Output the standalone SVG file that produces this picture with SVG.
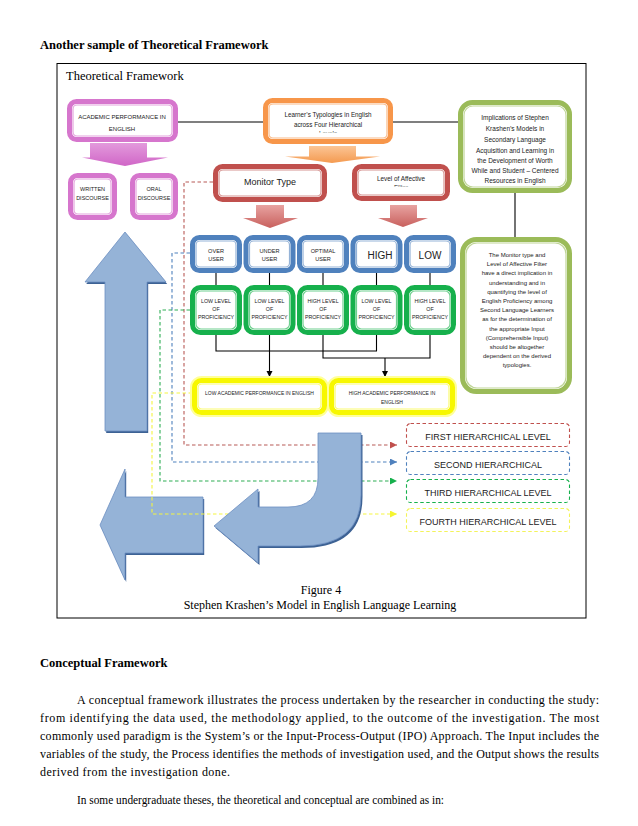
<svg xmlns="http://www.w3.org/2000/svg" width="638" height="826" viewBox="0 0 638 826">
<style>
.serif{font-family:"Liberation Serif","Times New Roman",serif;fill:#000}
.b{font-weight:bold}
.s{font-family:"Liberation Sans",Arial,sans-serif;fill:#222;text-anchor:middle}
.ln{stroke:#000;stroke-width:1.1;fill:none}
.pk-o{fill:#fff;stroke:#d676cd;stroke-width:5}
.pk-i{fill:none;stroke:#e3a3dd;stroke-width:1.2}
.or-o{fill:#fff;stroke:#f7964a;stroke-width:5}
.or-i{fill:none;stroke:#f9b987;stroke-width:1.2}
.rd-o{fill:#fff;stroke:#c0504d;stroke-width:5}
.rd-i{fill:none;stroke:#d69492;stroke-width:1.2}
.ol-o{fill:#fff;stroke:#9bbb59;stroke-width:5}
.ol-i{fill:none;stroke:#bfd597;stroke-width:1.2}
.bl-o{fill:#fff;stroke:#4f81bd;stroke-width:5}
.bl-i{fill:none;stroke:#95b3d7;stroke-width:1.2}
.gr-o{fill:#fff;stroke:#16b04c;stroke-width:5}
.gr-i{fill:none;stroke:#6fd08f;stroke-width:1.2}
.yl-g{fill:none;stroke:#ffff9a;stroke-width:9}
.yl-o{fill:#fff;stroke:#f7f700;stroke-width:5}
.yl-i{fill:none;stroke:#fbfb70;stroke-width:1.2}
.dash{fill:none;stroke-width:1.1;stroke-dasharray:3.5 2.5}
.big{fill:#95b3d7;stroke:#6d8fc2;stroke-width:0.8}
.shadow{fill:#3d6294}
</style>
<defs>
<marker id="ab" markerWidth="8" markerHeight="8" refX="6" refY="3" orient="auto" markerUnits="userSpaceOnUse"><path d="M0,0 L6,3 L0,6 Z" fill="#000"/></marker>
<marker id="ar" markerWidth="8" markerHeight="8" refX="7" refY="3.5" orient="auto" markerUnits="userSpaceOnUse"><path d="M0,0 L7,3.5 L0,7 Z" fill="#c0504d"/></marker>
<marker id="abl" markerWidth="8" markerHeight="8" refX="7" refY="3.5" orient="auto" markerUnits="userSpaceOnUse"><path d="M0,0 L7,3.5 L0,7 Z" fill="#4f81bd"/></marker>
<marker id="agr" markerWidth="8" markerHeight="8" refX="7" refY="3.5" orient="auto" markerUnits="userSpaceOnUse"><path d="M0,0 L7,3.5 L0,7 Z" fill="#16b04c"/></marker>
<marker id="ayl" markerWidth="8" markerHeight="8" refX="7" refY="3.5" orient="auto" markerUnits="userSpaceOnUse"><path d="M0,0 L7,3.5 L0,7 Z" fill="#f5f530"/></marker>
<linearGradient id="gpk" x1="0" y1="0" x2="0" y2="1"><stop offset="0" stop-color="#e39adc"/><stop offset="1" stop-color="#d066c7"/></linearGradient>
<linearGradient id="gor" x1="0" y1="0" x2="0" y2="1"><stop offset="0" stop-color="#fbc595"/><stop offset="1" stop-color="#f49a50"/></linearGradient>
<linearGradient id="grd" x1="0" y1="0" x2="0" y2="1"><stop offset="0" stop-color="#e8a3a1"/><stop offset="1" stop-color="#c8605d"/></linearGradient>
<clipPath id="c1"><rect x="263" y="98" width="130" height="34.5"/></clipPath>
<clipPath id="c2"><rect x="352" y="164" width="98" height="22.5"/></clipPath>
</defs>
<rect width="638" height="826" fill="#fff"/>
<text class="serif b" x="40" y="49" font-size="12.5">Another sample of Theoretical Framework</text>
<rect x="57" y="63.5" width="529" height="554.5" fill="none" stroke="#000" stroke-width="1"/>
<text class="serif" x="66" y="80" font-size="12.5">Theoretical Framework</text>

<!-- big blue arrows (background) -->
<g id="arrow-up">
<path class="shadow" transform="translate(1.2,2)" d="M125,232 L166,282 L147,282 L147,431 L105,431 L105,282 L85,282 Z"/>
<path class="big" d="M125,232 L166,282 L147,282 L147,431 L105,431 L105,282 L85,282 Z"/>
</g>
<g id="arrow-left">
<path class="shadow" transform="translate(1.2,2)" d="M100,525 L125,469 L125,497 L203,497 L203,553 L125,553 L125,580 Z"/>
<path class="big" d="M100,525 L125,469 L125,497 L203,497 L203,553 L125,553 L125,580 Z"/>
</g>

<!-- connectors -->
<g id="connectors">
<line class="ln" x1="178" y1="122" x2="263" y2="122"/>
<line class="ln" x1="393" y1="122" x2="458" y2="122"/>
<line class="ln" x1="515" y1="193" x2="515" y2="237"/>
<line class="ln" x1="216" y1="273" x2="216" y2="285"/>
<line class="ln" x1="269.5" y1="273" x2="269.5" y2="285"/>
<line class="ln" x1="323" y1="273" x2="323" y2="285"/>
<line class="ln" x1="376.5" y1="273" x2="376.5" y2="285"/>
<line class="ln" x1="430" y1="273" x2="430" y2="285"/>
<path class="ln" d="M216,335 V351 H376.5 V335"/>
<path class="ln" d="M269.5,335 V377" marker-end="url(#ab)"/>
<path class="ln" d="M323,335 V358 H430 V335"/>
<path class="ln" d="M385,358 V377" marker-end="url(#ab)"/>
<path class="dash" stroke="#b85a56" d="M213,182 H184 V445 H397" marker-end="url(#ar)"/>
<path class="dash" stroke="#4f81bd" d="M190,253 H172 V462 H397" marker-end="url(#abl)"/>
<path class="dash" stroke="#2eae55" d="M190,310 H160 V481 H397" marker-end="url(#agr)"/>
<path class="dash" stroke="#f5f540" d="M192,393 H152 V514 H397" marker-end="url(#ayl)"/>
</g>

<g id="arrow-curved">
<path class="shadow" transform="translate(1.5,2)" d="M318,433 L361,433 L361,495 Q361,546 300,546 L258,546 L258,563 L214,526 L258,489 L258,507 L288,507 Q318,507 318,478 Z"/>
<path class="big" d="M318,433 L361,433 L361,495 Q361,546 300,546 L258,546 L258,563 L214,526 L258,489 L258,507 L288,507 Q318,507 318,478 Z"/>
</g>

<!-- block arrows -->
<path id="arrow-pink" fill="url(#gpk)" d="M90,143 H147 V157.5 H168 L125,166 L82,157.5 H90 Z"/>
<path id="arrow-orange" fill="url(#gor)" d="M309,146 H356 V156.5 H380 L332,163 L285,156.5 H309 Z"/>
<path id="arrow-red1" fill="url(#grd)" d="M256,205 H284 V218 H298 L270,228 L243,218 H256 Z"/>
<path id="arrow-red2" fill="url(#grd)" d="M390,205 H417 V218 H428 L403,227 L378,218 H390 Z"/>

<g id="academic">
<rect class="pk-o" x="69.5" y="101.5" width="106" height="38" rx="7"/>
<rect class="pk-i" x="73" y="105" width="99" height="31" rx="4"/>
<text class="s" font-size="6" x="122" y="119">ACADEMIC PERFORMANCE IN</text>
<text class="s" font-size="6" x="122" y="131">ENGLISH</text>
</g>
<g id="written">
<rect class="pk-o" x="70.5" y="175.5" width="44" height="42" rx="7"/>
<rect class="pk-i" x="74" y="179" width="37" height="35" rx="4"/>
<text class="s" font-size="5.5" x="92.5" y="191">WRITTEN</text>
<text class="s" font-size="5.5" x="92.5" y="200">DISCOURSE</text>
</g>
<g id="oral">
<rect class="pk-o" x="132.5" y="175.5" width="43" height="42" rx="7"/>
<rect class="pk-i" x="136" y="179" width="36" height="35" rx="4"/>
<text class="s" font-size="5.5" x="154" y="191">ORAL</text>
<text class="s" font-size="5.5" x="154" y="200">DISCOURSE</text>
</g>
<g id="typologies">
<rect class="or-o" x="265.5" y="100.5" width="125" height="41" rx="7"/>
<rect class="or-i" x="269" y="104" width="118" height="34" rx="4"/>
<text class="s" font-size="6.3" x="328" y="117">Learner’s Typologies in English</text>
<text class="s" font-size="6.3" x="328" y="126.5">across Four Hierarchical</text>
<text class="s" font-size="6.3" x="328" y="136" clip-path="url(#c1)">Levels</text>
</g>
<g id="monitor">
<rect class="rd-o" x="215.5" y="166.5" width="109" height="33" rx="7"/>
<rect class="rd-i" x="219" y="170" width="102" height="26" rx="4"/>
<text class="s" font-size="9" x="270" y="185">Monitor Type</text>
</g>
<g id="affective">
<rect class="rd-o" x="354.5" y="166.5" width="93" height="32" rx="7"/>
<rect class="rd-i" x="358" y="170" width="86" height="25" rx="4"/>
<text class="s" font-size="6.4" x="401" y="180.5">Level of Affective</text>
<text class="s" font-size="6.4" x="401" y="190" clip-path="url(#c2)">Filter</text>
</g>
<g id="implications">
<rect class="ol-o" x="460.5" y="102.5" width="109" height="88" rx="12"/>
<rect class="ol-i" x="464" y="106" width="102" height="81" rx="9"/>
<g font-size="6.5" class="s">
<text class="s" x="515" y="120">Implications of Stephen</text>
<text class="s" x="515" y="131">Krashen’s Models in</text>
<text class="s" x="515" y="142">Secondary Language</text>
<text class="s" x="515" y="152.5">Acquisition and Learning in</text>
<text class="s" x="515" y="163">the Development of Worth</text>
<text class="s" x="515" y="173">While and Student – Centered</text>
<text class="s" x="515" y="183">Resources in English</text>
</g>
</g>
<g id="implication-note">
<rect class="ol-o" x="462.5" y="239.5" width="107" height="152" rx="14"/>
<rect class="ol-i" x="466" y="243" width="100" height="145" rx="11"/>
<g font-size="6">
<text class="s" x="517" y="257">The Monitor type and</text>
<text class="s" x="517" y="266.2">Level of Affective Filter</text>
<text class="s" x="517" y="275.4">have a direct implication in</text>
<text class="s" x="517" y="284.6">understanding and in</text>
<text class="s" x="517" y="293.8">quantifying the level of</text>
<text class="s" x="517" y="303">English Proficiency among</text>
<text class="s" x="517" y="312.2">Second Language Learners</text>
<text class="s" x="517" y="321.4">as for the determination of</text>
<text class="s" x="517" y="330.6">the appropriate Input</text>
<text class="s" x="517" y="339.8">(Comprehensible Input)</text>
<text class="s" x="517" y="349">should be altogether</text>
<text class="s" x="517" y="358.2">dependent on the derived</text>
<text class="s" x="517" y="367.4">typologies.</text>
</g>
</g>

<g id="over-user">
<rect class="bl-o" x="192.5" y="237.5" width="47" height="33" rx="7"/>
<rect class="bl-i" x="196" y="241" width="40" height="26" rx="4"/>
<text class="s" font-size="5.6" x="216" y="253">OVER</text>
<text class="s" font-size="5.6" x="216" y="261">USER</text>
</g>
<g id="under-user">
<rect class="bl-o" x="246" y="237.5" width="47" height="33" rx="7"/>
<rect class="bl-i" x="249.5" y="241" width="40" height="26" rx="4"/>
<text class="s" font-size="5.6" x="269.5" y="253">UNDER</text>
<text class="s" font-size="5.6" x="269.5" y="261">USER</text>
</g>
<g id="optimal-user">
<rect class="bl-o" x="299.5" y="237.5" width="47" height="33" rx="7"/>
<rect class="bl-i" x="303" y="241" width="40" height="26" rx="4"/>
<text class="s" font-size="5.6" x="323" y="253">OPTIMAL</text>
<text class="s" font-size="5.6" x="323" y="261">USER</text>
</g>
<g id="high">
<rect class="bl-o" x="353" y="237.5" width="47" height="33" rx="7"/>
<rect class="bl-i" x="356.5" y="241" width="40" height="26" rx="4"/>
<text class="s" font-size="10" x="380" y="258.5" fill="#000">HIGH</text>
</g>
<g id="low">
<rect class="bl-o" x="406.5" y="237.5" width="47" height="33" rx="7"/>
<rect class="bl-i" x="410" y="241" width="40" height="26" rx="4"/>
<text class="s" font-size="10" x="430" y="258.5" fill="#000">LOW</text>
</g>

<g id="prof1">
<rect class="gr-o" x="192.5" y="287.5" width="47" height="45" rx="8"/>
<rect class="gr-i" x="196" y="291" width="40" height="38" rx="5"/>
<text class="s" font-size="5.3" x="216" y="303">LOW LEVEL</text>
<text class="s" font-size="5.3" x="216" y="311">OF</text>
<text class="s" font-size="5.3" x="216" y="319">PROFICIENCY</text>
</g>
<g id="prof2">
<rect class="gr-o" x="246" y="287.5" width="47" height="45" rx="8"/>
<rect class="gr-i" x="249.5" y="291" width="40" height="38" rx="5"/>
<text class="s" font-size="5.3" x="269.5" y="303">LOW LEVEL</text>
<text class="s" font-size="5.3" x="269.5" y="311">OF</text>
<text class="s" font-size="5.3" x="269.5" y="319">PROFICIENCY</text>
</g>
<g id="prof3">
<rect class="gr-o" x="299.5" y="287.5" width="47" height="45" rx="8"/>
<rect class="gr-i" x="303" y="291" width="40" height="38" rx="5"/>
<text class="s" font-size="5.3" x="323" y="303">HIGH LEVEL</text>
<text class="s" font-size="5.3" x="323" y="311">OF</text>
<text class="s" font-size="5.3" x="323" y="319">PROFICIENCY</text>
</g>
<g id="prof4">
<rect class="gr-o" x="353" y="287.5" width="47" height="45" rx="8"/>
<rect class="gr-i" x="356.5" y="291" width="40" height="38" rx="5"/>
<text class="s" font-size="5.3" x="376.5" y="303">LOW LEVEL</text>
<text class="s" font-size="5.3" x="376.5" y="311">OF</text>
<text class="s" font-size="5.3" x="376.5" y="319">PROFICIENCY</text>
</g>
<g id="prof5">
<rect class="gr-o" x="406.5" y="287.5" width="47" height="45" rx="8"/>
<rect class="gr-i" x="410" y="291" width="40" height="38" rx="5"/>
<text class="s" font-size="5.3" x="430" y="303">HIGH LEVEL</text>
<text class="s" font-size="5.3" x="430" y="311">OF</text>
<text class="s" font-size="5.3" x="430" y="319">PROFICIENCY</text>
</g>

<g id="low-academic">
<rect class="yl-g" x="194.5" y="380.5" width="130" height="32" rx="7"/>
<rect class="yl-o" x="194.5" y="380.5" width="130" height="32" rx="7"/>
<rect class="yl-i" x="198" y="384" width="123" height="25" rx="4"/>
<text class="s" font-size="5" x="259.5" y="395">LOW ACADEMIC PERFORMANCE IN ENGLISH</text>
</g>
<g id="high-academic">
<rect class="yl-g" x="331.5" y="380.5" width="121" height="32" rx="7"/>
<rect class="yl-o" x="331.5" y="380.5" width="121" height="32" rx="7"/>
<rect class="yl-i" x="335" y="384" width="114" height="25" rx="4"/>
<text class="s" font-size="5" x="392" y="395">HIGH ACADEMIC PERFORMANCE IN</text>
<text class="s" font-size="5" x="392" y="404">ENGLISH</text>
</g>

<g id="level1">
<rect class="dash" stroke="#c0504d" x="406.5" y="423.5" width="163" height="23" rx="4"/>
<text class="s" font-size="9" fill="#000" x="488" y="440">FIRST HIERARCHICAL LEVEL</text>
</g>
<g id="level2">
<rect class="dash" stroke="#4f81bd" x="406.5" y="451.5" width="163" height="23" rx="4"/>
<text class="s" font-size="9" fill="#000" x="488" y="468">SECOND HIERARCHICAL</text>
</g>
<g id="level3">
<rect class="dash" stroke="#16b04c" x="406.5" y="479.5" width="163" height="23" rx="4"/>
<text class="s" font-size="9" fill="#000" x="488" y="496">THIRD HIERARCHICAL LEVEL</text>
</g>
<g id="level4">
<rect class="dash" stroke="#f3f35a" x="406.5" y="508.5" width="163" height="23" rx="4"/>
<text class="s" font-size="9" fill="#000" x="488" y="525">FOURTH HIERARCHICAL LEVEL</text>
</g>

<text class="serif" font-size="12" x="321" y="594" text-anchor="middle">Figure 4</text>
<text class="serif" font-size="12" x="320" y="609" text-anchor="middle">Stephen Krashen’s Model in English Language Learning</text>

<text class="serif b" x="40" y="667" font-size="12.5">Conceptual Framework</text>
<g class="serif" font-size="12">
<text x="77" y="704" textLength="522" lengthAdjust="spacing">A conceptual framework illustrates the process undertaken by the researcher in conducting the study:</text>
<text x="40" y="722" textLength="559" lengthAdjust="spacing">from identifying the data used, the methodology applied, to the outcome of the investigation. The most</text>
<text x="40" y="740" textLength="559" lengthAdjust="spacing">commonly used paradigm is the System’s or the Input-Process-Output (IPO) Approach. The Input includes the</text>
<text x="40" y="758" textLength="559" lengthAdjust="spacing">variables of the study, the Process identifies the methods of investigation used, and the Output shows the results</text>
<text x="40" y="776" textLength="190" lengthAdjust="spacing">derived from the investigation done.</text>
<text x="77" y="804" textLength="367" lengthAdjust="spacingAndGlyphs">In some undergraduate theses, the theoretical and conceptual are combined as in:</text>
</g>
</svg>
